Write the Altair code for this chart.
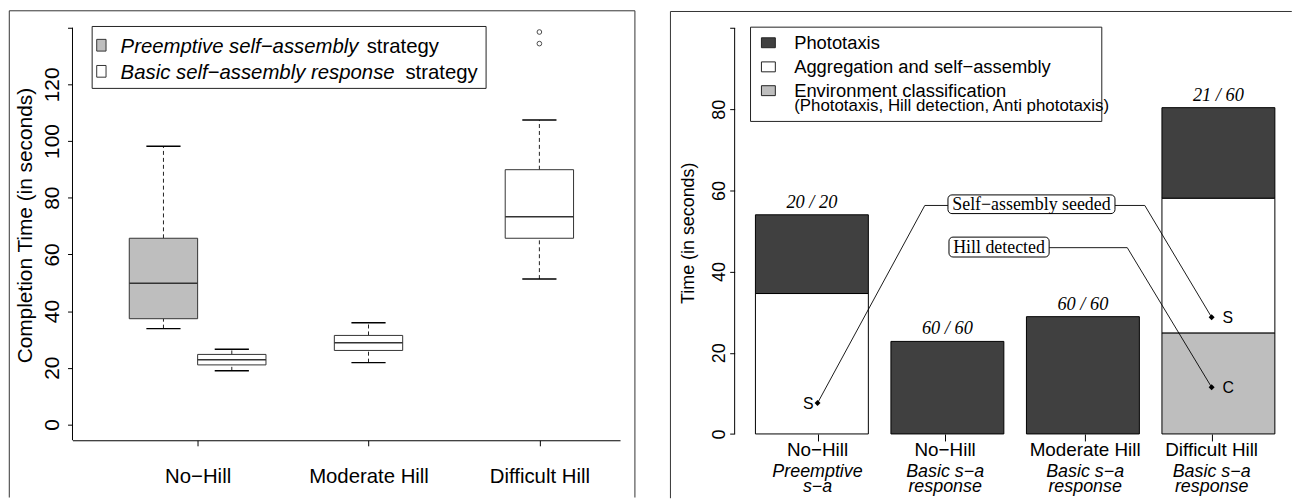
import altair as alt
import pandas as pd

FONT = "Liberation Sans"
SERIF = "Liberation Serif"

# ---------------- Left panel: completion-time box plots ----------------
env_ticks = [1, 2, 3]
env_names = ["No−Hill", "Moderate Hill", "Difficult Hill"]

strategy_names = ["Preemptive", "Basic"]
strategy_colors = ["#bebebe", "#ffffff"]
strategy_legend_italic = ["Preemptive self−assembly", "Basic self−assembly response"]
strategy_legend_plain = ["strategy", "strategy"]

box_strategy = ["Preemptive", "Basic", "Basic", "Basic"]
box_center = [0.8, 1.2, 2.0, 3.0]
box_low = [33.8, 18.9, 21.8, 51.3]
box_q1 = [37.3, 21.0, 26.1, 65.7]
box_med = [49.8, 22.8, 28.8, 73.3]
box_q3 = [65.7, 24.7, 31.4, 89.9]
box_high = [98.2, 26.5, 35.9, 107.4]

outlier_x = [3.0, 3.0]
outlier_y = [138.5, 134.4]

left_y_ticks = [0, 20, 40, 60, 80, 100, 120, 140]

# ---------------- Right panel: stacked phase times ----------------
bar_center = [0.7, 1.9, 3.1, 4.3]
bar_phototaxis = [19.4, 22.8, 28.9, 22.3]
bar_aggregation = [34.6, 0.0, 0.0, 33.2]
bar_environment = [0.0, 0.0, 0.0, 24.9]
bar_counts = ["20 / 20", "60 / 60", "60 / 60", "21 / 60"]

phase_names = ["Phototaxis", "Aggregation and self−assembly", "Environment classification"]
phase_colors = ["#404040", "#ffffff", "#bebebe"]
phase_note = "(Phototaxis, Hill detection, Anti phototaxis)"

cond_ticks = [0.75, 1.88, 3.12, 4.24]
cond_line1 = ["No−Hill", "No−Hill", "Moderate Hill", "Difficult Hill"]
cond_line2 = ["Preemptive", "Basic s−a", "Basic s−a", "Basic s−a"]
cond_line3 = ["s−a", "response", "response", "response"]

event_x = [0.75, 4.24, 4.24]
event_y = [7.6, 28.75, 11.5]
event_label = ["S", "S", "C"]
event_side = ["left", "right", "right"]

note_text = ["Self−assembly seeded", "Hill detected"]
note_x1 = [1.905, 1.914]
note_x2 = [3.384, 2.801]
note_y1 = [54.3, 43.6]
note_y2 = [58.9, 48.5]

leader_id = ["a", "a", "a", "b", "b", "b", "c", "c", "c"]
leader_step = [0, 1, 2, 0, 1, 2, 0, 1, 2]
leader_x = [1.905, 1.700, 0.75, 3.384, 3.648, 4.24, 2.801, 3.493, 4.24]
leader_y = [56.3, 56.3, 7.6, 56.3, 56.3, 28.75, 45.9, 45.9, 11.5]

right_y_ticks = [0, 20, 40, 60, 80, 100]

# ---------------- geometry ----------------
LW, LH = 551.8, 431.7
L_XDOM = [0.2677, 3.472]
L_YDOM = [-5.6, 145.6]
RW, RH = 561.5, 441.7
R_XDOM = [0.016, 4.950]
R_YDOM = [-4, 104]

one = pd.DataFrame({"k": [0]})


def vtext(x, y, s, size, italic=False, font=FONT, align="left", baseline="alphabetic"):
    return alt.Chart(one).mark_text(
        align=align, baseline=baseline, font=font, fontSize=size,
        fontStyle="italic" if italic else "normal", color="black"
    ).encode(x=alt.value(x), y=alt.value(y), text=alt.value(s))


def vrect(x1, x2, y1, y2, fill, stroke="black", sw=1):
    return alt.Chart(one).mark_rect(fill=fill, stroke=stroke, strokeWidth=sw).encode(
        x=alt.value(x1), x2=alt.value(x2), y=alt.value(y1), y2=alt.value(y2))


def vline(x, y1, y2, color="#333333"):
    return alt.Chart(one).mark_rule(color=color, strokeWidth=1).encode(
        x=alt.value(x), y=alt.value(y1), y2=alt.value(y2))


def hline(x1, x2, y, color="#333333"):
    return alt.Chart(one).mark_rule(color=color, strokeWidth=1).encode(
        x=alt.value(x1), x2=alt.value(x2), y=alt.value(y))


# ---------------- left chart ----------------
left_x_axis = alt.Axis(
    values=env_ticks,
    labelExpr="[" + ",".join("'" + n + "'" for n in env_names) + "][datum.value - 1]",
    title=None, grid=False, tickSize=5.6, labelFontSize=20.5, labelBaseline="alphabetic",
    labelPadding=37, labelFlush=False, labelOverlap=False, labelAngle=0,
)
left_y_axis = alt.Axis(
    values=left_y_ticks, domain=False, grid=False, tickSize=5, labelAngle=270,
    labelAlign="center", labelBaseline="alphabetic", labelPadding=9.2, labelFontSize=21,
    labelExpr="datum.value == 140 ? '' : datum.label", labelFlush=False, labelOverlap=False,
    title="Completion Time (in seconds)", titleFontSize=21, titleAngle=270,
    titleAlign="center", titleBaseline="alphabetic", titleX=-41, titleY=214.9,
)


def LX(f):
    return alt.X(f, type="quantitative", scale=alt.Scale(domain=L_XDOM, nice=False, zero=False), axis=left_x_axis)


def LY(f):
    return alt.Y(f, type="quantitative", scale=alt.Scale(domain=L_YDOM, nice=False, zero=False), axis=left_y_axis)


box_df = pd.DataFrame({
    "strategy": box_strategy, "center": box_center, "low": box_low, "q1": box_q1,
    "med": box_med, "q3": box_q3, "high": box_high,
})
box_base = alt.Chart(box_df).transform_calculate(
    bx1="datum.center - 0.2", bx2="datum.center + 0.2",
    cx1="datum.center - 0.1", cx2="datum.center + 0.1",
)

whisk_hi = box_base.mark_rule(color="#222222", strokeWidth=1, strokeDash=[4, 3]).encode(
    x=LX("center"), y=LY("q3"), y2="high")
whisk_lo = box_base.mark_rule(color="#222222", strokeWidth=1, strokeDash=[4, 3]).encode(
    x=LX("center"), y=LY("low"), y2="q1")
cap_hi = box_base.mark_rule(color="black", strokeWidth=1.5).encode(x=LX("cx1"), x2="cx2", y=LY("high"))
cap_lo = box_base.mark_rule(color="black", strokeWidth=1.5).encode(x=LX("cx1"), x2="cx2", y=LY("low"))
boxes = box_base.mark_rect(stroke="#333333", strokeWidth=1).encode(
    x=LX("bx1"), x2="bx2", y=LY("q1"), y2="q3",
    fill=alt.Fill("strategy:N", scale=alt.Scale(domain=strategy_names, range=strategy_colors), legend=None),
)
medians = box_base.mark_rule(color="#333333", strokeWidth=1.6).encode(x=LX("bx1"), x2="bx2", y=LY("med"))
outliers = alt.Chart(pd.DataFrame({"x": outlier_x, "y": outlier_y})).mark_point(
    shape="circle", size=22, filled=False, color="black", strokeWidth=1).encode(x=LX("x"), y=LY("y"))
left_axis_line = alt.Chart(pd.DataFrame({"top": [left_y_ticks[-1]], "bottom": [L_YDOM[0]]})).mark_rule(
    color="black").encode(x=alt.value(0), y=LY("top"), y2="bottom")

left_layers = [
    # frame
    vline(-63.7, -1.1, 489.4), hline(-63.7, 566.8, -1.1), vline(566.8, -1.1, 489.4),
    left_axis_line, whisk_hi, whisk_lo, cap_hi, cap_lo, boxes, medians, outliers,
    # legend
    vrect(19.8, 416.8, 14.7, 77.1, "white", "#222222"),
    vrect(24.4, 33.8, 27.7, 39.5, strategy_colors[0], "#333333"),
    vrect(24.4, 33.8, 54.0, 65.8, strategy_colors[1], "#333333"),
    vtext(48.5, 41.1, strategy_legend_italic[0], 20.5, italic=True),
    vtext(296.5, 41.1, strategy_legend_plain[0], 20.5),
    vtext(48.5, 67.7, strategy_legend_italic[1], 20.5, italic=True),
    vtext(335.5, 67.7, strategy_legend_plain[1], 20.5),
]
left = alt.layer(*left_layers).properties(width=LW, height=LH)

# ---------------- right chart ----------------
right_x_axis = alt.Axis(values=cond_ticks, labels=False, domain=False, grid=False, tickSize=7,
                        offset=-16.3, title=None)
right_y_axis = alt.Axis(
    values=right_y_ticks, domain=False, grid=False, tickSize=5, labelAngle=270,
    labelAlign="center", labelBaseline="alphabetic", labelPadding=5, labelFontSize=18,
    labelExpr="datum.value == 100 ? '' : datum.label", labelFlush=False, labelOverlap=False,
    title="Time (in seconds)", titleFontSize=18, titleAngle=270,
    titleAlign="center", titleBaseline="alphabetic", titleX=-41.1, titleY=222.6,
)


def RX(f):
    return alt.X(f, type="quantitative", scale=alt.Scale(domain=R_XDOM, nice=False, zero=False), axis=right_x_axis)


def RY(f):
    return alt.Y(f, type="quantitative", scale=alt.Scale(domain=R_YDOM, nice=False, zero=False), axis=right_y_axis)


rows = []
for i, c in enumerate(bar_center):
    base = 0.0
    for name, seg in [(phase_names[2], bar_environment[i]),
                      (phase_names[1], bar_aggregation[i]),
                      (phase_names[0], bar_phototaxis[i])]:
        if seg > 0:
            rows.append({"center": c, "phase": name, "y0": base, "y1": base + seg})
            base += seg
seg_df = pd.DataFrame(rows)

bars = alt.Chart(seg_df).transform_calculate(
    x1="datum.center - 0.5", x2="datum.center + 0.5"
).mark_rect(stroke="black", strokeWidth=1).encode(
    x=RX("x1"), x2="x2", y=RY("y0"), y2="y1",
    fill=alt.Fill("phase:N", scale=alt.Scale(domain=phase_names, range=phase_colors), legend=None),
)

totals = [e + a + p for e, a, p in zip(bar_environment, bar_aggregation, bar_phototaxis)]
count_df = pd.DataFrame({"center": bar_center, "total": totals, "label": bar_counts})
counts = alt.Chart(count_df).mark_text(
    font=SERIF, fontStyle="italic", fontSize=18.5, baseline="alphabetic", dy=-7, color="black"
).encode(x=RX("center"), y=RY("total"), text="label:N")

leader_df = pd.DataFrame({"id": leader_id, "step": leader_step, "x": leader_x, "y": leader_y})
leaders = alt.Chart(leader_df).mark_line(color="black", strokeWidth=0.9).encode(
    x=RX("x"), y=RY("y"), detail="id:N", order="step:Q")

note_df = pd.DataFrame({"text": note_text, "x1": note_x1, "x2": note_x2, "y1": note_y1, "y2": note_y2})
note_boxes = alt.Chart(note_df).mark_rect(fill="white", stroke="black", strokeWidth=1, cornerRadius=4).encode(
    x=RX("x1"), x2="x2", y=RY("y1"), y2="y2")
note_texts = alt.Chart(note_df).transform_calculate(
    xc="(datum.x1 + datum.x2) / 2", yc="(datum.y1 + datum.y2) / 2"
).mark_text(font=SERIF, fontSize=18, baseline="middle", align="center", dy=1, color="black").encode(
    x=RX("xc"), y=RY("yc"), text="text:N")

event_df = pd.DataFrame({"x": event_x, "y": event_y, "label": event_label, "side": event_side})
diamonds = alt.Chart(event_df).mark_point(shape="diamond", filled=True, color="black", size=36, opacity=1).encode(
    x=RX("x"), y=RY("y"))
ev_left = alt.Chart(event_df).transform_filter("datum.side == 'left'").mark_text(
    font=FONT, fontSize=16, align="right", baseline="middle", dx=-4, dy=1, color="black"
).encode(x=RX("x"), y=RY("y"), text="label:N")
ev_right = alt.Chart(event_df).transform_filter("datum.side == 'right'").mark_text(
    font=FONT, fontSize=16, align="left", baseline="middle", dx=11, dy=1, color="black"
).encode(x=RX("x"), y=RY("y"), text="label:N")

right_axis_line = alt.Chart(pd.DataFrame({"top": [right_y_ticks[-1]], "bottom": [0]})).mark_rule(
    color="black").encode(x=alt.value(0), y=RY("top"), y2="bottom")

cond_df = pd.DataFrame({"x": cond_ticks, "l1": cond_line1, "l2": cond_line2, "l3": cond_line3})
cond1 = alt.Chart(cond_df).mark_text(font=FONT, fontSize=19, baseline="alphabetic", align="center",
                                     color="black").encode(x=RX("x"), y=alt.value(447.8), text="l1:N")
cond2 = alt.Chart(cond_df).mark_text(font=FONT, fontSize=18, fontStyle="italic", baseline="alphabetic",
                                     align="center", color="black").encode(x=RX("x"), y=alt.value(468.6), text="l2:N")
cond3 = alt.Chart(cond_df).mark_text(font=FONT, fontSize=18, fontStyle="italic", baseline="alphabetic",
                                     align="center", color="black").encode(x=RX("x"), y=alt.value(483.6), text="l3:N")

right_layers = [
    vline(-64.7, -0.4, 490.1), hline(-64.7, 561.5, -0.4),
    right_axis_line, bars, leaders, note_boxes, note_texts, counts, diamonds, ev_left, ev_right,
    cond1, cond2, cond3,
    # legend
    vrect(16, 370, 15.4, 110.4, "white", "#222222"),
    vrect(27, 41, 26.1, 36.1, phase_colors[0], "#222222"),
    vrect(27, 41, 50.4, 60.4, phase_colors[1], "#222222"),
    vrect(27, 41, 74.4, 84.4, phase_colors[2], "#222222"),
    vtext(60, 37.8, phase_names[0], 18.5),
    vtext(60, 61.8, phase_names[1], 18.5),
    vtext(60, 86.1, phase_names[2], 18.5),
    vtext(60, 100.0, phase_note, 17),
]
right = alt.layer(*right_layers).properties(width=RW, height=RH)

chart = alt.hconcat(left, right, spacing=33.3).resolve_scale(fill="independent").properties(
    padding=0
).configure_view(stroke=None).configure_axis(
    labelFont=FONT, titleFont=FONT, labelColor="black", titleColor="black",
    domainColor="black", tickColor="black", titleFontWeight="normal",
)

chart.save("out.html", embed_options={"renderer": "svg", "actions": False})
